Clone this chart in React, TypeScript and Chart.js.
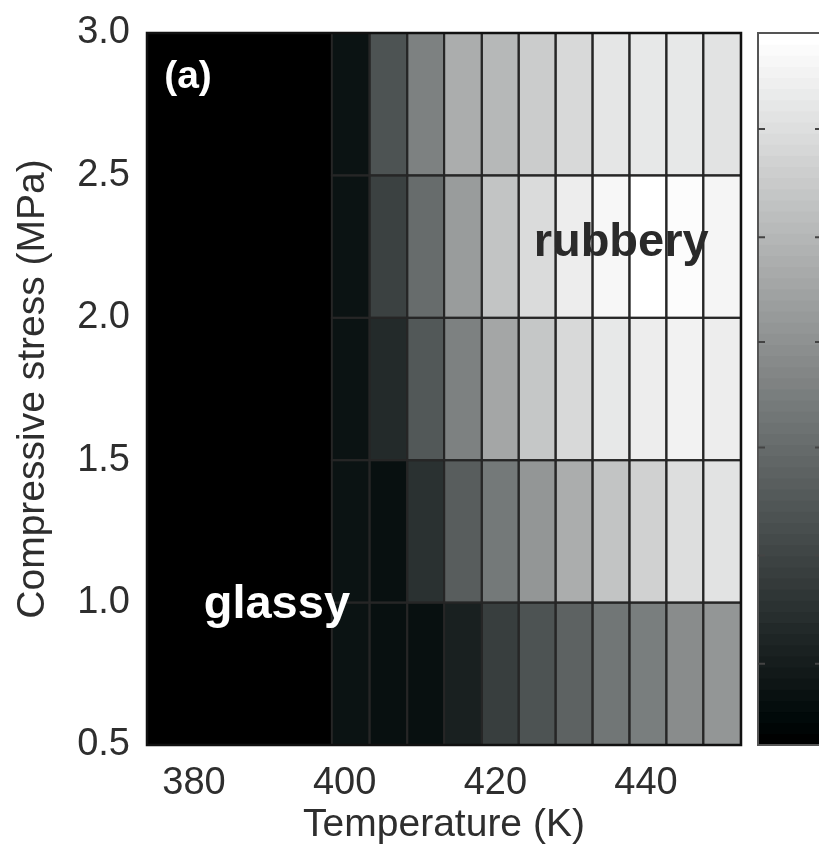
import React, { useEffect, useRef } from "react";
import { Chart, registerables } from "chart.js";

Chart.register(...registerables);

// ---- data ----
const xTicks = [380, 400, 420, 440];
const yTicks = [0.5, 1.0, 1.5, 2.0, 2.5, 3.0];
const xMin = 373.76;
const xMax = 452.61;
const yMin = 0.5;
const yMax = 3.0;

// temperature cell edges (K)
const tempEdges = [398.3, 403.3, 408.3, 413.2, 418.2, 423.1, 428.0, 432.9, 437.8, 442.7, 447.6, 452.6];
// stress cell edges (MPa)
const stressEdges = [0.5, 1.0, 1.5, 2.0, 2.5, 3.0];

// normalised colour values, one row per stress band (bottom to top)
const row0510 = [0.07, 0.06, 0.06, 0.12, 0.24, 0.32, 0.38, 0.46, 0.49, 0.55, 0.59];
const row1015 = [0.07, 0.06, 0.19, 0.36, 0.47, 0.59, 0.68, 0.77, 0.82, 0.87, 0.89];
const row1520 = [0.07, 0.16, 0.34, 0.5, 0.65, 0.78, 0.85, 0.91, 0.93, 0.95, 0.93];
const row2025 = [0.07, 0.25, 0.42, 0.61, 0.77, 0.86, 0.93, 0.97, 1.0, 0.99, 0.96];
const row2530 = [0.07, 0.32, 0.5, 0.68, 0.72, 0.8, 0.85, 0.9, 0.91, 0.91, 0.89];
const cellRows = [row0510, row1015, row1520, row2025, row2530];

// colour bar tick positions (fraction of bar height, from bottom)
const cbTicks = [0.114, 0.266, 0.418, 0.566, 0.713, 0.865];

const annotations = [
  { text: "(a)", x: 379.2, y: 2.846, color: "#ffffff", size: 39 },
  { text: "glassy", x: 391.0, y: 0.99, color: "#ffffff", size: 47 },
  { text: "rubbery", x: 436.7, y: 2.262, color: "#2a2a2a", size: 47 },
];

const FONT = '"Liberation Sans", Arial, Helvetica, sans-serif';
const TEXT = "#2e2e2e";

function grayColor(v: number): string {
  const L = Math.round(255 * v);
  const r = Math.max(0, Math.round(L - 7 * (1 - v)));
  const g = Math.min(255, Math.round(L + 1 * (1 - v)));
  const b = Math.min(255, Math.round(L + 1 * (1 - v)));
  return `rgb(${r},${g},${b})`;
}

const heatmapPlugin = {
  id: "heatmap",
  beforeDatasetsDraw(chart: any) {
    const { ctx, chartArea: a, scales } = chart;
    const xs = scales.x;
    const ys = scales.y;
    ctx.save();
    ctx.fillStyle = "#000";
    ctx.fillRect(a.left, a.top, a.right - a.left, a.bottom - a.top);
    for (let r = 0; r < cellRows.length; r++) {
      const y0 = ys.getPixelForValue(stressEdges[r + 1]);
      const y1 = ys.getPixelForValue(stressEdges[r]);
      for (let c = 0; c < cellRows[r].length; c++) {
        const x0 = xs.getPixelForValue(tempEdges[c]);
        const x1 = xs.getPixelForValue(tempEdges[c + 1]);
        ctx.fillStyle = grayColor(cellRows[r][c]);
        ctx.fillRect(x0, y0, x1 - x0, y1 - y0);
      }
    }
    ctx.strokeStyle = "#262626";
    ctx.lineWidth = 2;
    for (let r = 0; r < cellRows.length; r++) {
      const y0 = ys.getPixelForValue(stressEdges[r + 1]);
      const y1 = ys.getPixelForValue(stressEdges[r]);
      for (let c = 0; c < cellRows[r].length; c++) {
        const x0 = xs.getPixelForValue(tempEdges[c]);
        const x1 = xs.getPixelForValue(tempEdges[c + 1]);
        ctx.strokeRect(x0, y0, x1 - x0, y1 - y0);
      }
    }
    ctx.restore();
  },
  afterDatasetsDraw(chart: any) {
    const { ctx, chartArea: a, scales } = chart;
    ctx.save();
    ctx.strokeStyle = "#111";
    ctx.lineWidth = 2.5;
    ctx.strokeRect(a.left, a.top, a.right - a.left, a.bottom - a.top);
    ctx.textAlign = "center";
    ctx.textBaseline = "middle";
    for (const t of annotations) {
      ctx.font = `bold ${t.size}px ${FONT}`;
      ctx.fillStyle = t.color;
      ctx.fillText(t.text, scales.x.getPixelForValue(t.x), scales.y.getPixelForValue(t.y));
    }
    ctx.restore();
  },
  afterDraw(chart: any) {
    const { ctx, chartArea: a } = chart;
    const left = a.right + 17;
    const width = 64;
    const top = a.top;
    const h = a.bottom - a.top;
    ctx.save();
    const steps = 64;
    for (let i = 0; i < steps; i++) {
      const v = i / (steps - 1);
      const yb = a.bottom - (h * i) / steps;
      ctx.fillStyle = grayColor(v);
      ctx.fillRect(left, yb - h / steps - 0.5, width, h / steps + 1);
    }
    ctx.strokeStyle = "#555";
    ctx.lineWidth = 2;
    ctx.strokeRect(left, top, width, h);
    ctx.strokeStyle = "#444";
    ctx.lineWidth = 2;
    for (const f of cbTicks) {
      const y = a.bottom - f * h;
      ctx.beginPath();
      ctx.moveTo(left, y);
      ctx.lineTo(left + 7, y);
      ctx.moveTo(left + width, y);
      ctx.lineTo(left + width - 7, y);
      ctx.stroke();
    }
    ctx.restore();
  },
};

export default function App() {
  const ref = useRef<HTMLCanvasElement | null>(null);
  useEffect(() => {
    if (!ref.current) return;
    const centers: { x: number; y: number }[] = [];
    for (let r = 0; r < cellRows.length; r++) {
      for (let c = 0; c < cellRows[r].length; c++) {
        centers.push({
          x: (tempEdges[c] + tempEdges[c + 1]) / 2,
          y: (stressEdges[r] + stressEdges[r + 1]) / 2,
        });
      }
    }
    const chart = new Chart(ref.current, {
      type: "scatter",
      data: {
        datasets: [
          {
            data: centers,
            pointRadius: 0,
            pointHoverRadius: 0,
            showLine: false,
          },
        ],
      },
      options: {
        animation: false,
        responsive: false,
        devicePixelRatio: 1,
        events: [],
        layout: { padding: { left: 0, right: 78, top: 33, bottom: 0 } },
        plugins: { legend: { display: false }, tooltip: { enabled: false } },
        scales: {
          x: {
            type: "linear",
            min: xMin,
            max: xMax,
            afterBuildTicks: (s: any) => {
              s.ticks = xTicks.map((v) => ({ value: v }));
            },
            afterFit: (s: any) => {
              s.height = 119;
              s.paddingLeft = 0;
              s.paddingRight = 0;
            },
            grid: { display: false, drawTicks: false },
            border: { display: false },
            ticks: {
              autoSkip: false,
              maxRotation: 0,
              padding: 16,
              color: TEXT,
              font: { family: FONT, size: 38 },
              callback: (v: any) => String(v),
            },
            title: {
              display: true,
              text: "Temperature (K)",
              color: TEXT,
              font: { family: FONT, size: 39, lineHeight: 1 },
              padding: { top: 0, bottom: 19 },
            },
          },
          y: {
            type: "linear",
            min: yMin,
            max: yMax,
            afterBuildTicks: (s: any) => {
              s.ticks = yTicks.map((v) => ({ value: v }));
            },
            afterFit: (s: any) => {
              s.width = 147;
              s.paddingTop = 0;
              s.paddingBottom = 0;
            },
            grid: { display: false, drawTicks: false },
            border: { display: false },
            ticks: {
              autoSkip: false,
              padding: 17,
              color: TEXT,
              font: { family: FONT, size: 38 },
              callback: (v: any) => Number(v).toFixed(1),
            },
            title: {
              display: true,
              text: "Compressive stress (MPa)",
              color: TEXT,
              font: { family: FONT, size: 39, lineHeight: 1 },
              padding: { top: 14, bottom: 0 },
            },
          },
        },
      },
      plugins: [heatmapPlugin],
    } as any);
    return () => chart.destroy();
  }, []);
  return (
    <div style={{ position: "absolute", left: 0, top: 0, width: 819, height: 864, background: "#fff" }}>
      <canvas ref={ref} width={819} height={864} style={{ display: "block", width: 819, height: 864 }} />
    </div>
  );
}
